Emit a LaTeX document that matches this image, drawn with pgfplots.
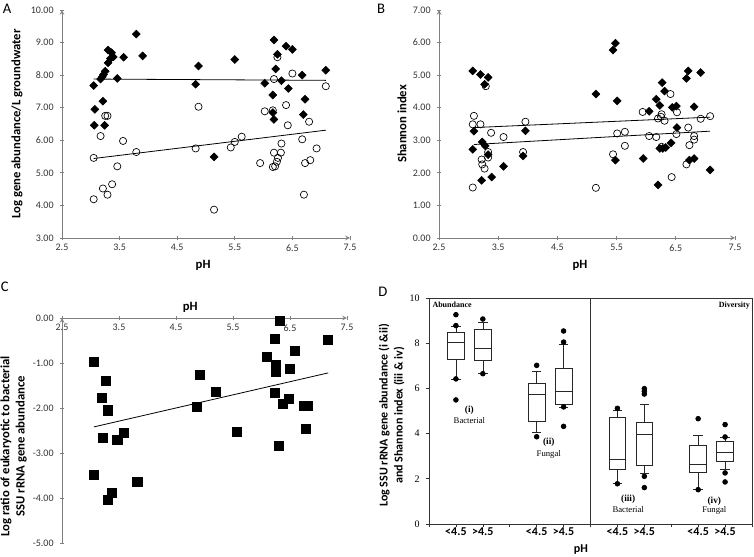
\documentclass[border=0pt]{standalone}
\usepackage{fontspec}
\setmainfont{Carlito}
\newfontfamily\tnr{Liberation Serif}
\usepackage{pgfplots}
\pgfplotsset{compat=1.18}
\usepgfplotslibrary{statistics}

\pgfplotsset{
  xlsaxis/.style={
    scale only axis,
    anchor=south west,
    /pgf/number format/assume math mode=true,
    axis line style={-, draw=black!50, line width=0.6pt},
    tick style={draw=black!50, line width=0.6pt},
    tick align=outside,
    major tick length=2.5pt,
    ticklabel style={font=\fontsize{7.5}{9}\selectfont, text=black!80},
    yticklabel style={xshift=-1.5pt},
    label style={font=\bfseries\fontsize{9.5}{11.5}\selectfont},
    x tick label style={/pgf/number format/.cd, fixed, fixed zerofill, precision=1},
    y tick label style={/pgf/number format/.cd, fixed, fixed zerofill, precision=2},
  },
  diam/.style={only marks, mark=square*, mark size=2.1pt, mark options={rotate=45, draw=black, fill=black}},
  circ/.style={only marks, mark=o, mark size=2.7pt, mark options={draw=black, line width=0.5pt}},
  trend/.style={no marks, black, line width=0.6pt},
  bx/.style={black!85, line width=0.5pt, solid, mark=*, mark size=1.8pt, mark options={draw=black, fill=black}},
}

\begin{document}
\begin{tikzpicture}
\useasboundingbox (0pt,0pt) rectangle (565.5pt,417.75pt);

% ---------------- Panel A ----------------
\begin{axis}[xlsaxis,
  at={(46.5pt,239.25pt)}, width=216pt, height=171pt,
  xmin=2.5, xmax=7.5, ymin=3, ymax=10,
  axis x line=bottom, axis y line=left,
  xtick={2.5,3.5,4.5,5.5,6.5,7.5}, ytick={3,4,5,6,7,8,9,10},
  xlabel={pH}, ylabel={Log gene abundance/L groundwater},
  xlabel style={at={(axis description cs:0.49,-0.118)}, anchor=center},
  ylabel style={at={(axis description cs:-0.156,0.5)}, anchor=center},
]
\addplot[diam] coordinates {
(3.79,9.26) (3.30,8.77) (3.36,8.69) (3.39,8.56) (3.34,8.51) (3.57,8.55) (3.90,8.59)
(3.30,8.38) (3.25,8.12) (3.22,8.02) (3.20,7.95) (3.17,7.88) (3.46,7.90) (3.05,7.68)
(3.21,7.20) (3.07,6.95) (3.06,6.46) (3.24,6.46)
(4.82,7.72) (4.87,8.28) (5.14,5.49) (5.50,8.48)
(6.18,9.08) (6.39,8.89) (6.50,8.79) (6.24,8.64) (6.21,8.19) (7.08,8.15) (6.67,8.00)
(6.02,7.75) (6.31,7.83) (6.43,7.59) (6.16,7.39) (6.72,7.26) (6.16,6.85) (6.18,6.64)
(6.69,6.79)
};
\addplot[circ] coordinates {
(3.25,6.75) (3.29,6.75) (3.17,6.13) (3.56,5.98) (3.79,5.64) (3.05,5.46) (3.46,5.20)
(3.37,4.65) (3.21,4.52) (3.29,4.33) (3.05,4.19)
(4.82,5.75) (4.87,7.03) (5.14,3.87) (5.43,5.78) (5.50,5.95) (5.62,6.11)
(6.24,8.55) (6.50,8.05) (6.18,7.88) (7.08,7.66) (6.39,7.08) (6.02,6.89) (6.16,6.92)
(6.42,6.46) (6.79,6.57) (6.67,6.03) (6.31,5.90) (6.18,5.62) (6.30,5.62) (6.92,5.75)
(6.25,5.46) (6.23,5.34) (5.94,5.30) (6.81,5.39) (6.72,5.30) (6.16,5.18) (6.20,5.20)
(6.70,4.33)
};
\addplot[trend] coordinates {(3.05,7.88) (7.08,7.84)};
\addplot[trend] coordinates {(3.05,5.44) (7.08,6.31)};
\end{axis}

% ---------------- Panel B ----------------
\begin{axis}[xlsaxis,
  at={(329.25pt,239.25pt)}, width=222pt, height=171pt,
  xmin=2.5, xmax=7.5, ymin=0, ymax=7,
  axis x line=bottom, axis y line=left,
  xtick={2.5,3.5,4.5,5.5,6.5,7.5}, ytick={0,1,2,3,4,5,6,7},
  xlabel={pH}, ylabel={Shannon index},
  xlabel style={at={(axis description cs:0.476,-0.118)}, anchor=center},
  ylabel style={at={(axis description cs:-0.125,0.5)}, anchor=center},
]
\addplot[diam] coordinates {
(3.07,5.13) (3.20,5.02) (3.33,4.93) (3.27,4.72) (3.09,3.28) (3.23,2.95) (3.28,2.83)
(3.07,2.72) (3.33,2.56) (3.59,2.20) (3.22,1.77) (3.39,1.87) (3.96,3.29) (3.92,2.52)
(5.15,4.42) (5.44,5.77) (5.48,5.98) (5.51,4.21) (5.48,2.39)
(6.71,5.13) (6.92,5.08) (6.68,4.90) (6.27,4.77) (6.31,4.51) (6.17,4.26) (6.23,4.07)
(6.05,3.89) (6.44,4.01) (6.51,4.05) (6.81,4.03) (6.52,3.39) (6.23,2.75) (6.28,2.75)
(6.33,2.78) (6.42,2.92) (5.95,2.44) (6.73,2.39) (6.81,2.44) (7.08,2.09) (6.20,1.63)
};
\addplot[circ] coordinates {
(3.09,3.75) (3.07,3.49) (3.20,3.49) (3.29,4.66) (3.38,3.23) (3.59,3.10) (3.33,2.64)
(3.33,2.47) (3.22,2.41) (3.23,2.26) (3.27,2.13) (3.07,1.55) (3.96,3.57) (3.92,2.64)
(5.15,1.54) (5.44,2.57) (5.51,3.21) (5.64,3.26) (5.64,2.83)
(6.41,4.42) (5.94,3.87) (6.26,3.80) (6.20,3.67) (6.25,3.72) (6.31,3.60) (6.52,3.86)
(6.92,3.66) (7.08,3.74) (6.71,3.39) (6.51,3.19) (6.05,3.13) (6.17,3.10) (6.81,3.13)
(6.81,3.02) (6.73,2.85) (6.26,2.80) (6.68,2.26) (6.43,1.87)
};
\addplot[trend] coordinates {(3.09,3.39) (7.08,3.71)};
\addplot[trend] coordinates {(3.09,2.87) (7.08,3.28)};
\end{axis}

% ---------------- Panel C ----------------
\begin{axis}[xlsaxis,
  at={(46.5pt,10.5pt)}, width=213.75pt, height=168.75pt,
  xmin=2.5, xmax=7.5, ymin=-5, ymax=0,
  axis x line=middle, axis y line=left,
  hide obscured x ticks=false, hide obscured y ticks=false,
  xtick={2.5,3.5,4.5,5.5,6.5,7.5}, ytick={-5,-4,-3,-2,-1,0},
  ylabel={Log ratio of eukaryotic to bacterial\\SSU rRNA gene abundance},
  ylabel style={at={(axis description cs:-0.17,0.43)}, anchor=center, align=center},
  clip=false,
]
\addplot[only marks, mark=square*, mark size=3.4pt, mark options={draw=black, fill=black}] coordinates {
(3.06,-0.97) (3.06,-3.49) (3.19,-1.77) (3.27,-1.40) (3.22,-2.67) (3.31,-2.05) (3.31,-4.04)
(3.38,-3.89) (3.47,-2.70) (3.59,-2.55) (3.82,-3.63) (4.86,-1.97) (4.92,-1.26) (5.19,-1.64)
(5.56,-2.53) (6.09,-0.86) (6.23,-0.47) (6.25,-1.03) (6.25,-1.20) (6.23,-1.66) (6.32,-0.07)
(6.30,-2.84) (6.38,-1.91) (6.48,-1.80) (6.50,-1.12) (6.58,-0.72) (6.74,-1.95) (6.81,-1.95)
(6.78,-2.46) (7.17,-0.48)
};
\addplot[trend] coordinates {(3.06,-2.42) (7.17,-1.22)};
\node[font=\bfseries\fontsize{9.5}{11.5}\selectfont, anchor=center] at (axis description cs:0.45,1.045) {pH};
\end{axis}

% ---------------- Panel D ----------------
\begin{axis}[
  scale only axis, anchor=south west,
  at={(321.75pt,24.75pt)}, width=242.25pt, height=169.5pt,
  xmin=0, xmax=12, ymin=0, ymax=10,
  axis line style={draw=black!80, line width=0.5pt},
  tick style={draw=black!80, line width=0.5pt},
  tick align=outside, major tick length=2.5pt,
  xtick pos=left, ytick pos=left,
  xtick={0,1,2,3,4,5,6,7,8,9,10,11,12},
  xticklabels={,<4.5,>4.5,,<4.5,>4.5,,<4.5,>4.5,,<4.5,>4.5,},
  ytick={0,2,4,6,8,10},
  xticklabel style={font=\bfseries\fontsize{9}{10}\selectfont, anchor=base, yshift=-6.5pt},
  yticklabel style={font=\tnr\fontsize{7.5}{9}\selectfont, xshift=-1pt},
  /pgf/number format/assume math mode=true,
  boxplot/draw direction=y,
  ylabel={Log SSU rRNA gene abundance (i \&ii)\\and Shannon index (iii \& iv)},
  label style={font=\bfseries\fontsize{9}{11.25}\selectfont},
  ylabel style={at={(axis description cs:-0.116,0.48)}, anchor=center, align=center},
  clip=false,
]
\addplot[black!80, line width=0.5pt] coordinates {(6,0) (6,10)};
\addplot[bx, boxplot prepared={draw position=1, median=8.02, upper quartile=8.50, lower quartile=7.29, upper whisker=8.75, lower whisker=6.42, box extend=0.62, whisker extend=0.35}]
  table[row sep=\\, y index=0] {y\\ 9.26\\ 8.78\\ 6.42\\ 5.49\\};
\addplot[bx, boxplot prepared={draw position=2, median=7.79, upper quartile=8.60, lower quartile=7.23, upper whisker=8.92, lower whisker=6.65, box extend=0.62, whisker extend=0.35}]
  table[row sep=\\, y index=0] {y\\ 9.07\\ 6.65\\};
\addplot[bx, boxplot prepared={draw position=4, median=5.72, upper quartile=6.24, lower quartile=4.54, upper whisker=6.77, lower whisker=4.07, box extend=0.62, whisker extend=0.35}]
  table[row sep=\\, y index=0] {y\\ 7.02\\ 3.86\\};
\addplot[bx, boxplot prepared={draw position=5, median=5.88, upper quartile=6.87, lower quartile=5.31, upper whisker=7.96, lower whisker=5.16, box extend=0.62, whisker extend=0.35}]
  table[row sep=\\, y index=0] {y\\ 8.54\\ 8.05\\ 5.18\\ 4.32\\};
\addplot[bx, boxplot prepared={draw position=7, median=2.85, upper quartile=4.72, lower quartile=2.40, upper whisker=5.03, lower whisker=1.78, box extend=0.62, whisker extend=0.35}]
  table[row sep=\\, y index=0] {y\\ 5.12\\ 1.78\\};
\addplot[bx, boxplot prepared={draw position=8, median=3.98, upper quartile=4.50, lower quartile=2.61, upper whisker=5.28, lower whisker=2.26, box extend=0.62, whisker extend=0.35}]
  table[row sep=\\, y index=0] {y\\ 5.99\\ 5.87\\ 5.75\\ 2.11\\ 1.61\\};
\addplot[bx, boxplot prepared={draw position=10, median=2.63, upper quartile=3.47, lower quartile=2.30, upper whisker=3.91, lower whisker=1.52, box extend=0.62, whisker extend=0.35}]
  table[row sep=\\, y index=0] {y\\ 4.66\\ 1.52\\};
\addplot[bx, boxplot prepared={draw position=11, median=3.17, upper quartile=3.67, lower quartile=2.79, upper whisker=3.85, lower whisker=2.42, box extend=0.62, whisker extend=0.35}]
  table[row sep=\\, y index=0] {y\\ 4.40\\ 3.85\\ 2.26\\ 1.86\\};
\node[anchor=north west, inner sep=0pt, font=\tnr\bfseries\fontsize{6}{7}\selectfont] at (axis cs:0.12,9.84) {Abundance};
\node[anchor=north east, inner sep=0pt, font=\tnr\bfseries\fontsize{6}{7}\selectfont] at (axis cs:11.93,9.84) {Diversity};
\node[font=\tnr\bfseries\fontsize{7}{8}\selectfont] at (axis cs:1.5,5.05) {(i)};
\node[font=\tnr\fontsize{6.5}{7.5}\selectfont] at (axis cs:1.5,4.6) {Bacterial};
\node[font=\tnr\bfseries\fontsize{7}{8}\selectfont] at (axis cs:4.45,3.6) {(ii)};
\node[font=\tnr\fontsize{6.5}{7.5}\selectfont] at (axis cs:4.45,3.1) {Fungal};
\node[font=\tnr\bfseries\fontsize{7}{8}\selectfont] at (axis cs:7.4,1.1) {(iii)};
\node[font=\tnr\fontsize{6.5}{7.5}\selectfont] at (axis cs:7.4,0.66) {Bacterial};
\node[font=\tnr\bfseries\fontsize{7}{8}\selectfont] at (axis cs:10.6,1.02) {(iv)};
\node[font=\tnr\fontsize{6.5}{7.5}\selectfont] at (axis cs:10.6,0.58) {Fungal};
\node[font=\bfseries\fontsize{9}{11.25}\selectfont, anchor=center] at (axis description cs:0.47,-0.113) {pH};
\end{axis}

% panel letters
\node[font=\fontsize{11}{13}\selectfont] at (5.25pt,411pt) {A};
\node[font=\fontsize{11}{13}\selectfont] at (285.75pt,411pt) {B};
\node[font=\fontsize{11}{13}\selectfont] at (3.5pt,202.5pt) {C};
\node[font=\fontsize{11}{13}\selectfont] at (287.25pt,198.75pt) {D};
\end{tikzpicture}
\end{document}
